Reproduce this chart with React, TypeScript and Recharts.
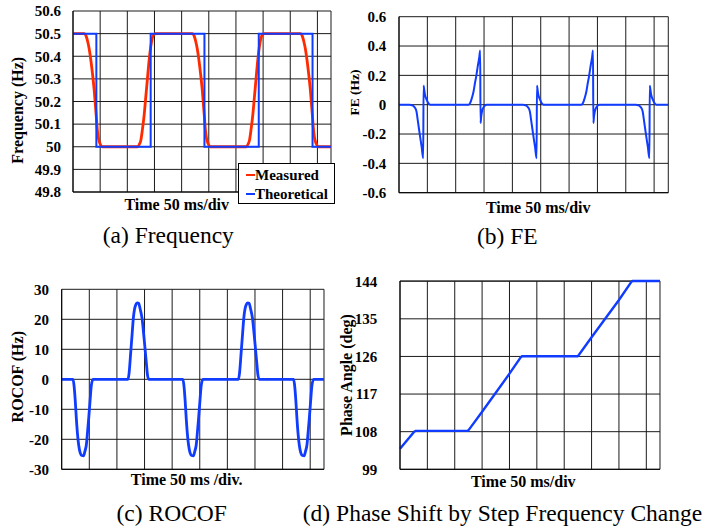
import { LineChart, Line, XAxis, YAxis, CartesianGrid, Legend } from 'recharts';

const SERIF = '"Liberation Serif", "Times New Roman", Times, serif';
const BLUE = '#0f3cff';
const RED = '#ff2a00';
const GRID = '#1a1a1a';

// time axis, ms (one division = 50 ms)
const TIME_TICKS = [0, 50, 100, 150, 200, 250, 300, 350, 400, 450];
const TIME_TICKS_BOXED = [0, 50, 100, 150, 200, 250, 300, 350, 400, 450, 475];

const FREQ_TICKS = [49.8, 49.9, 50, 50.1, 50.2, 50.3, 50.4, 50.5, 50.6];
const FE_TICKS = [-0.6, -0.4, -0.2, 0, 0.2, 0.4, 0.6];
const ROCOF_TICKS = [-30, -20, -10, 0, 10, 20, 30];
const PHASE_TICKS = [99, 108, 117, 126, 135, 144];

// (a) frequency, Hz
const freqTheoretical = [
  [0, 50.5], [43, 50.5], [43, 50], [143, 50], [143, 50.5], [242, 50.5], [242, 50],
  [342, 50], [342, 50.5], [441, 50.5], [441, 50], [475, 50],
];
const freqMeasured = [
  [0, 50.5], [21, 50.5], [24, 50.49], [27, 50.465], [30, 50.43], [33, 50.38], [36, 50.32],
  [39, 50.25], [41, 50.19], [43, 50.13], [45, 50.07], [47, 50.035], [50, 50.012], [54, 50],
  [119, 50], [122, 50.01], [125, 50.03], [128, 50.08], [131, 50.14], [134, 50.22], [137, 50.3],
  [140, 50.38], [143, 50.44], [146, 50.48], [149, 50.497], [152, 50.5],
  [220, 50.5], [223, 50.49], [226, 50.465], [229, 50.43], [232, 50.38], [235, 50.32],
  [238, 50.25], [240, 50.19], [242, 50.13], [244, 50.07], [246, 50.035], [249, 50.012], [253, 50],
  [319, 50], [322, 50.01], [325, 50.03], [328, 50.08], [331, 50.14], [334, 50.22], [337, 50.3],
  [340, 50.38], [343, 50.44], [346, 50.48], [349, 50.497], [352, 50.5],
  [419, 50.5], [422, 50.49], [425, 50.465], [428, 50.43], [431, 50.38], [434, 50.32],
  [437, 50.25], [439, 50.19], [441, 50.13], [443, 50.07], [445, 50.035], [448, 50.012], [452, 50],
  [475, 50],
];

// (b) frequency error, Hz
const feValues = [
  [0, 0], [19, 0], [23, -0.004], [27, -0.015], [30, -0.035], [31, -0.05], [33, -0.104],
  [37, -0.212], [40, -0.29], [42.7, -0.365], [43.3, 0.13], [44.5, 0.1], [46, 0.065],
  [48.8, 0.034], [51, 0.015], [55, 0],
  [122.5, 0], [125.5, 0.012], [128.5, 0.045], [131.5, 0.09], [134, 0.148], [136.5, 0.2],
  [138.8, 0.26], [141.5, 0.32], [143.2, 0.37], [143.8, -0.125], [145, -0.08], [146.5, -0.045],
  [148.8, -0.02], [151.5, -0.006], [154.5, 0],
  [219, 0], [223, -0.004], [227, -0.015], [230, -0.035], [231, -0.05], [233, -0.104],
  [237, -0.212], [240, -0.29], [242.7, -0.365], [243.3, 0.13], [244.5, 0.1], [246, 0.065],
  [248.8, 0.034], [251, 0.015], [255, 0],
  [321.5, 0], [324.5, 0.012], [327.5, 0.045], [330.5, 0.09], [333, 0.148], [335.5, 0.2],
  [337.8, 0.26], [340.5, 0.32], [342.2, 0.37], [342.8, -0.125], [344, -0.08], [345.5, -0.045],
  [347.8, -0.02], [350.5, -0.006], [353.5, 0],
  [418, 0], [422, -0.004], [426, -0.015], [429, -0.035], [430, -0.05], [432, -0.104],
  [436, -0.212], [439, -0.29], [441.7, -0.365], [442.3, 0.13], [443.5, 0.1], [445, 0.065],
  [447.8, 0.034], [450, 0.015], [454, 0], [475, 0],
];

// (c) ROCOF
const rocofValues = [
  [0, 0], [20.5, 0], [22.3, -2], [24.5, -7], [26.5, -13], [28.5, -18], [30.8, -22],
  [33.5, -24.5], [36.5, -25.4], [39.5, -25.5], [42, -24], [44.6, -21.9], [46.8, -17.5],
  [48.9, -13], [51, -8], [53.7, -2], [56.7, 0],
  [120, 0], [122, 2], [125, 9], [127.5, 15], [129.7, 20.3], [132, 23.5], [134.5, 25],
  [137, 25.5], [139.5, 25.3], [142, 23.5], [145.5, 20.3], [148.5, 15], [151.5, 9],
  [153.5, 5], [155.3, 1.5], [157.6, 0],
  [219.5, 0], [221.3, -2], [223.5, -7], [225.5, -13], [227.5, -18], [229.8, -22],
  [232.5, -24.5], [235.5, -25.4], [238.5, -25.5], [241, -24], [243.6, -21.9], [245.8, -17.5],
  [247.9, -13], [250, -8], [252.7, -2], [255.7, 0],
  [320, 0], [322, 2], [325, 9], [327.5, 15], [329.7, 20.3], [332, 23.5], [334.5, 25],
  [337, 25.5], [339.5, 25.3], [342, 23.5], [345.5, 20.3], [348.5, 15], [351.5, 9],
  [353.5, 5], [355.3, 1.5], [357.6, 0],
  [420, 0], [421.8, -2], [424, -7], [426, -13], [428, -18], [430.3, -22], [433, -24.5],
  [436, -25.4], [439, -25.5], [441.5, -24], [444.1, -21.9], [446.3, -17.5], [448.4, -13],
  [450.5, -8], [453.2, -2], [456.2, 0], [475, 0],
];

// (d) phase angle, deg
const phaseValues = [
  [0, 103.9], [26, 108], [28.5, 108.2], [124, 108.2], [126, 108.5], [150, 112.75],
  [200, 121.9], [220.5, 125.8], [223, 126.05], [324.5, 126.05], [327, 126.4], [350, 130.6],
  [400, 139.5], [423, 143.9], [425, 144.05], [475, 144.05],
];

const toPoints = (pairs: number[][]) => pairs.map(([t, v]) => ({ t, v }));

const TICK = { fontSize: 15, fontWeight: 'bold', fill: '#000', fontFamily: SERIF };

// x ticks are only used to place the vertical grid lines
const NoTick = () => <g />;

// eslint-disable-next-line @typescript-eslint/no-explicit-any
const renderLegend = (props: any) => {
  const { payload } = props;
  return (
    <div
      style={{
        boxSizing: 'border-box',
        width: 97,
        height: 41,
        border: '1px solid #000',
        background: '#fff',
        padding: '2px 0 0 7px',
        fontFamily: SERIF,
        fontWeight: 'bold',
        fontSize: 15,
        color: '#000',
      }}
    >
      {/* eslint-disable-next-line @typescript-eslint/no-explicit-any */}
      {payload?.map((entry: any, index: number) => (
        <div key={`item-${index}`} style={{ display: 'flex', alignItems: 'center', height: 18.5, lineHeight: '18.5px' }}>
          <span style={{ display: 'inline-block', width: 9, height: 2, background: entry.color }} />
          <span>{entry.value}</span>
        </div>
      ))}
    </div>
  );
};

const xAxisProps = {
  type: 'number' as const,
  dataKey: 't',
  domain: [0, 475],
  interval: 0,
  tick: <NoTick />,
  tickLine: false,
  axisLine: { stroke: '#000' },
  height: 8,
};

export default function App() {
  return (
    <div style={{ position: 'absolute', left: 0, top: 0, width: 708, height: 527, background: '#fff' }}>
      {/* (a) Frequency */}
      <div style={{ position: 'absolute', left: 0, top: 0 }}>
        <LineChart width={336} height={200} margin={{ top: 11, right: 5, bottom: 0, left: 0 }}>
          <CartesianGrid stroke={GRID} />
          <XAxis {...xAxisProps} ticks={TIME_TICKS_BOXED} />
          <YAxis
            type="number"
            domain={[49.8, 50.6]}
            ticks={FREQ_TICKS}
            interval={0}
            width={73}
            tickLine={false}
            tickSize={0}
            tickMargin={12}
            axisLine={{ stroke: '#000' }}
            tick={TICK}
          />
          <Line data={toPoints(freqMeasured)} dataKey="v" name="Measured" type="monotone" stroke={RED} strokeWidth={2.8} dot={false} isAnimationActive={false} />
          <Line data={toPoints(freqTheoretical)} dataKey="v" name="Theoretical" type="linear" stroke={BLUE} strokeWidth={2} dot={false} isAnimationActive={false} />
          <Legend
            layout="vertical"
            align="center"
            verticalAlign="middle"
            content={renderLegend}
            wrapperStyle={{ left: 238, top: 163, width: 97, height: 41 }}
          />
        </LineChart>
      </div>

      {/* (b) FE */}
      <div style={{ position: 'absolute', left: 330, top: 0 }}>
        <LineChart width={343.3} height={200.7} margin={{ top: 16.7, right: 5, bottom: 0, left: 0 }}>
          <CartesianGrid stroke={GRID} />
          <XAxis {...xAxisProps} ticks={TIME_TICKS_BOXED} />
          <YAxis
            type="number"
            domain={[-0.6, 0.6]}
            ticks={FE_TICKS}
            interval={0}
            width={69}
            tickLine={false}
            tickSize={0}
            tickMargin={12.7}
            axisLine={{ stroke: '#000' }}
            tick={TICK}
          />
          <Line data={toPoints(feValues)} dataKey="v" name="FE" type="monotone" stroke={BLUE} strokeWidth={2} dot={false} isAnimationActive={false} />
        </LineChart>
      </div>

      {/* (c) ROCOF */}
      <div style={{ position: 'absolute', left: 0, top: 270 }}>
        <LineChart width={329} height={207.3} margin={{ top: 19.3, right: 5, bottom: 0, left: 0 }}>
          <CartesianGrid stroke={GRID} />
          <XAxis {...xAxisProps} ticks={TIME_TICKS} />
          <YAxis
            type="number"
            domain={[-30, 30]}
            ticks={ROCOF_TICKS}
            interval={0}
            width={61.7}
            tickLine={false}
            tickSize={0}
            tickMargin={12.7}
            axisLine={{ stroke: '#000' }}
            tick={TICK}
          />
          <Line data={toPoints(rocofValues)} dataKey="v" name="ROCOF" type="monotone" stroke={BLUE} strokeWidth={2.8} dot={false} isAnimationActive={false} />
        </LineChart>
      </div>

      {/* (d) Phase angle */}
      <div style={{ position: 'absolute', left: 330, top: 270 }}>
        <LineChart width={335} height={207.3} margin={{ top: 11, right: 5, bottom: 0, left: 0 }}>
          <CartesianGrid stroke={GRID} />
          <XAxis {...xAxisProps} ticks={TIME_TICKS} />
          <YAxis
            type="number"
            domain={[99, 144]}
            ticks={PHASE_TICKS}
            interval={0}
            width={70}
            tickLine={false}
            tickSize={0}
            tickMargin={22.7}
            axisLine={{ stroke: '#000' }}
            tick={TICK}
          />
          <Line data={toPoints(phaseValues)} dataKey="v" name="Phase" type="linear" stroke={BLUE} strokeWidth={2.4} dot={false} isAnimationActive={false} />
        </LineChart>
      </div>

      {/* axis titles and captions */}
      <svg
        width={708}
        height={527}
        style={{ position: 'absolute', left: 0, top: 0, pointerEvents: 'none' }}
        fontFamily={SERIF}
        fill="#000"
      >
        <g fontWeight="bold" fontSize={16} textAnchor="middle">
          <text x={176.7} y={209.5}>Time 50 ms/div</text>
          <text x={538.2} y={212.5}>Time 50 ms/div</text>
          <text x={186.7} y={485}>Time 50 ms /div.</text>
          <text x={523.3} y={487}>Time 50 ms/div</text>
          <text transform="translate(22.7,110.3) rotate(-90)">Frequency (Hz)</text>
          <text transform="translate(359,92.5) rotate(-90)" fontSize={13.5}>FE (Hz)</text>
          <text transform="translate(22.7,376.7) rotate(-90)">ROCOF (Hz)</text>
          <text transform="translate(351.7,375) rotate(-90)">Phase Angle (deg)</text>
        </g>
        <g fontSize={23.5} textAnchor="middle">
          <text x={168.3} y={242.5}>(a) Frequency</text>
          <text x={507.3} y={244}>(b) FE</text>
          <text x={171.7} y={521}>(c) ROCOF</text>
          <text x={502.5} y={521}>(d) Phase Shift by Step Frequency Change</text>
        </g>
      </svg>
    </div>
  );
}
